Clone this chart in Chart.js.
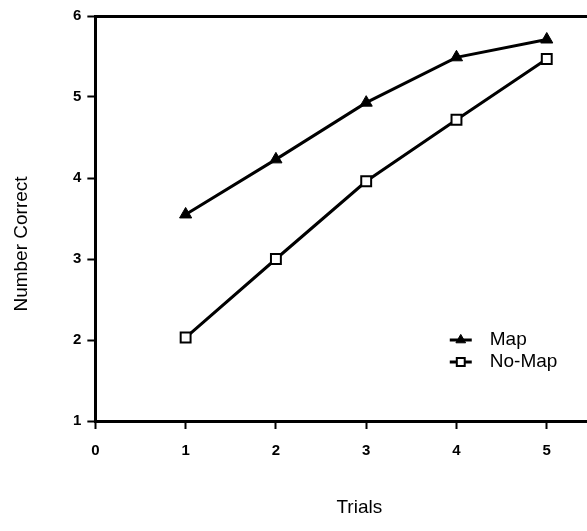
<!DOCTYPE html>
<html>
<head>
<meta charset="utf-8">
<script src="https://cdn.jsdelivr.net/npm/chart.js@4"></script>
<style>
  html, body { margin: 0; padding: 0; background: #fff; overflow: hidden; }
  #wrap { width: 600px; height: 531px; }
</style>
</head>
<body>
<div id="wrap"><canvas id="trialsChart"></canvas></div>
<script>
const trials = [1, 2, 3, 4, 5];
const mapCorrect = [3.55, 4.23, 4.93, 5.49, 5.71];
const noMapCorrect = [2.03, 3.0, 3.96, 4.72, 5.47];
const seriesLabels = ['Map', 'No-Map'];
const xTicks = [0, 1, 2, 3, 4, 5];
const xTitle = 'Trials';
const yTitle = 'Number Correct';

const font = "'Liberation Sans', Arial, sans-serif";

// legend inside the plot (lower right) and the two axis titles
const extras = {
    id: 'extras',
    afterDraw(chart) {
        const c = chart.ctx;
        const a = chart.chartArea;
        const x0 = chart.scales.x.getPixelForValue(5) - 97;
        chart.data.datasets.forEach((ds, i) => {
            const y = a.bottom - 81 + i * 22;
            c.save();
            c.strokeStyle = '#000';
            c.lineWidth = 3;
            c.beginPath();
            c.moveTo(x0, y);
            c.lineTo(x0 + 22, y);
            c.stroke();
            c.lineWidth = ds.pointBorderWidth;
            c.fillStyle = ds.pointBackgroundColor;
            Chart.helpers.drawPoint(c, {
                pointStyle: ds.pointStyle,
                radius: ds.pointRadius * 0.8,
                rotation: 0,
                borderWidth: ds.pointBorderWidth
            }, x0 + 11, y);
            c.fillStyle = '#000';
            c.font = '19px ' + font;
            c.textBaseline = 'middle';
            c.fillText(ds.label, x0 + 40, y);
            c.restore();
        });

        c.save();
        c.fillStyle = '#000';
        c.font = '19px ' + font;
        c.textAlign = 'center';
        c.textBaseline = 'middle';
        c.fillText(xTitle, a.left + 264, a.bottom + 87);
        c.translate(22, a.top + 228);
        c.rotate(-Math.PI / 2);
        c.fillText(yTitle, 0, 0);
        c.restore();
    }
};

new Chart(document.getElementById('trialsChart'), {
    type: 'line',
    data: {
        datasets: [{
            label: seriesLabels[0],
            data: trials.map((t, i) => ({ x: t, y: mapCorrect[i] })),
            borderColor: '#000',
            borderWidth: 3,
            pointStyle: 'triangle',
            pointRadius: 7,
            pointBackgroundColor: '#000',
            pointBorderColor: '#000',
            pointBorderWidth: 1
        }, {
            label: seriesLabels[1],
            data: trials.map((t, i) => ({ x: t, y: noMapCorrect[i] })),
            borderColor: '#000',
            borderWidth: 3,
            pointStyle: 'rect',
            pointRadius: 7,
            pointBackgroundColor: '#fff',
            pointBorderColor: '#000',
            pointBorderWidth: 2
        }]
    },
    options: {
        responsive: true,
        maintainAspectRatio: false,
        animation: false,
        layout: { padding: { top: 16, right: 0, bottom: 58, left: 67 } },
        plugins: {
            legend: { display: false },
            tooltip: { enabled: false }
        },
        scales: {
            x: {
                type: 'linear',
                min: 0,
                max: 5.49,
                afterBuildTicks: s => { s.ticks = xTicks.map(v => ({ value: v })); },
                ticks: {
                    color: '#000',
                    padding: 13,
                    font: { family: font, size: 15, weight: 'bold' }
                },
                grid: {
                    drawOnChartArea: false,
                    tickLength: 8,
                    tickWidth: 2,
                    tickColor: '#000'
                },
                border: { color: '#000', width: 3 }
            },
            y: {
                min: 1,
                max: 6,
                ticks: {
                    stepSize: 1,
                    color: '#000',
                    padding: 6,
                    font: { family: font, size: 15, weight: 'bold' }
                },
                grid: {
                    color: ctx => ctx.tick && ctx.tick.value === 6 ? '#000' : 'rgba(0,0,0,0)',
                    lineWidth: 3,
                    tickLength: 8,
                    tickWidth: 2,
                    tickColor: '#000'
                },
                border: { color: '#000', width: 3 }
            }
        }
    },
    plugins: [extras]
});
</script>
</body>
</html>
